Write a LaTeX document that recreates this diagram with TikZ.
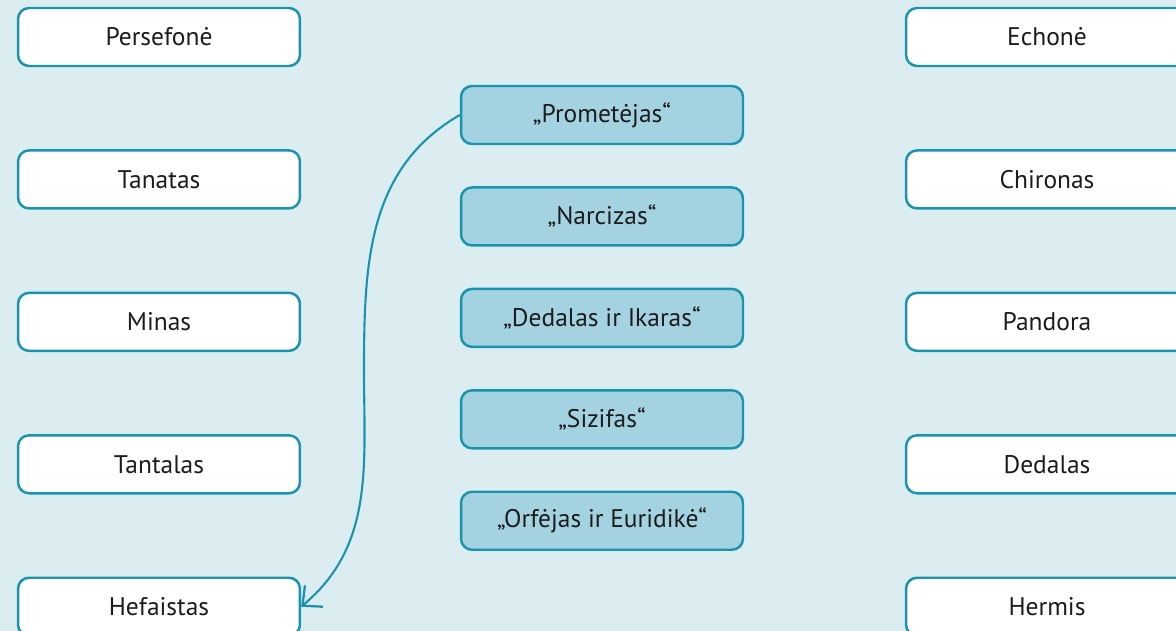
\documentclass[tikz,border=0pt]{standalone}
\usepackage{fontspec}
\setmainfont{PT Sans}
\usepackage{xcolor}
\usetikzlibrary{arrows.meta, positioning}
\definecolor{sea}{HTML}{1A93AD}
\definecolor{bg}{HTML}{DCEDF2}
\definecolor{myth}{HTML}{A3D3E1}
\definecolor{ink}{HTML}{1E1B1C}
\begin{document}
\begin{tikzpicture}[x=0.02cm, y=-0.02cm, node distance=1.64cm]
            \tikzset{
                name_box/.style={draw=sea, line width=1.4pt, rounded corners=0.22cm, fill=white,
                    minimum width=5.64cm, minimum height=1.16cm, text=ink, font=\fontsize{14.5}{16}\selectfont},
                myth_box/.style={name_box, fill=myth}
            }
            \fill[bg] (0,0) rectangle (1176,631);
            \clip (0,0) rectangle (1176,631);

            % left column
            \node[name_box] (P) at (159,37) {Persefonė};
            \node[name_box] (T) [below=of P] {Tanatas};
            \node[name_box] (M) [below=of T] {Minas};
            \node[name_box] (Ta) [below=of M] {Tantalas};
            \node[name_box] (H) [below=of Ta] {Hefaistas};

            % right column
            \node[name_box] (E) at (1047,37) {Echonė};
            \node[name_box] (C) [below=of E] {Chironas};
            \node[name_box] (Pa) [below=of C] {Pandora};
            \node[name_box] (D) [below=of Pa] {Dedalas};
            \node[name_box] (He) [below=of D] {Hermis};

            % middle column
            \node[myth_box] (Pr) at (602,115) {„Prometėjas“};
            \node[myth_box] (N) [below=0.82cm of Pr] {„Narcizas“};
            \node[myth_box] (DI) [below=0.82cm of N] {„Dedalas ir Ikaras“};
            \node[myth_box] (S) [below=0.82cm of DI] {„Sizifas“};
            \node[myth_box] (O) [below=0.82cm of S] {„Orfėjas ir Euridikė“};

            \coordinate (bend) at (364,370);
            \draw[sea, line width=1.2pt, -{Straight Barb[length=3mm, width=5.6mm, line width=1.3pt]}]
                (Pr.west) to[out=210, in=90] (bend) to[out=-90, in=40] (H.east);
        \end{tikzpicture}
\end{document}
